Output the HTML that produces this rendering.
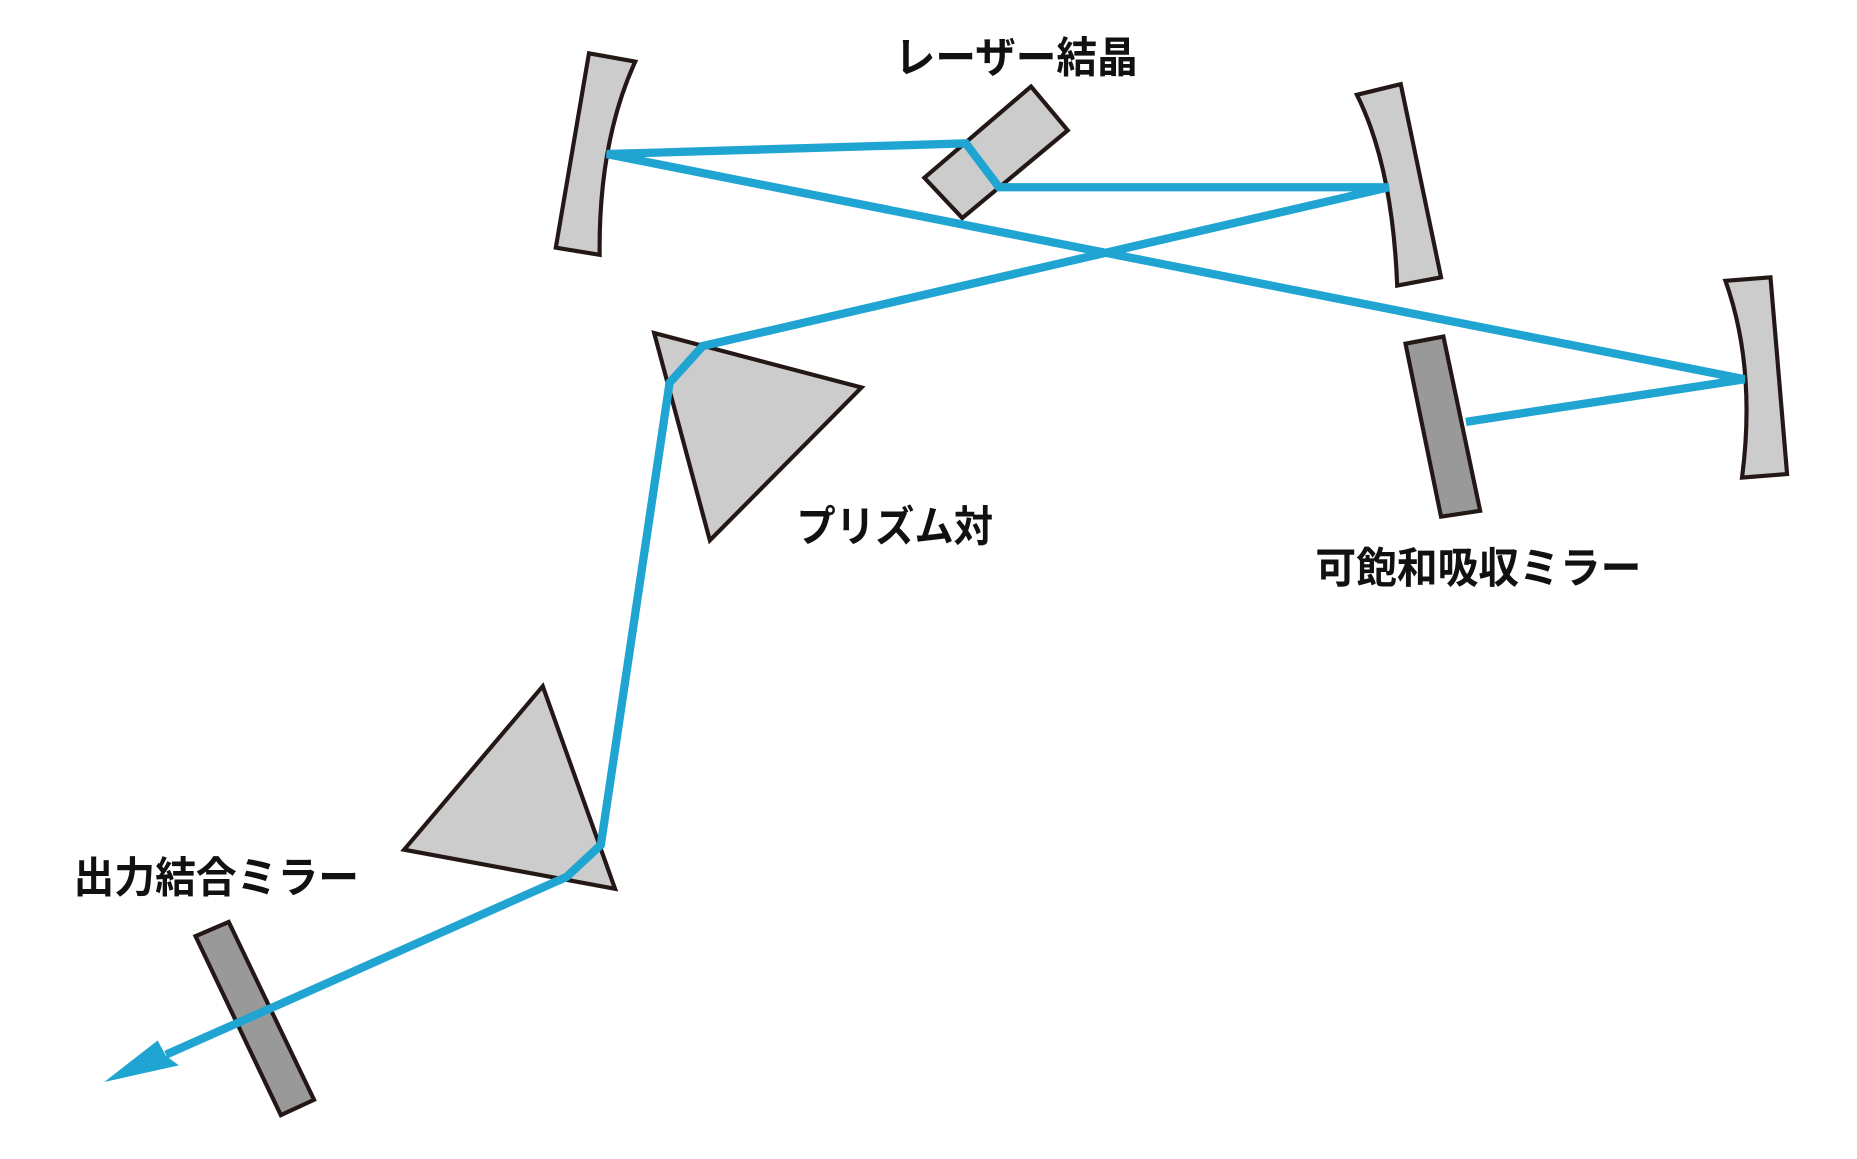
<!DOCTYPE html>
<html><head><meta charset="utf-8"><style>html,body{margin:0;padding:0;background:#fff}svg{display:block}</style></head>
<body>
<svg width="1857" height="1159" viewBox="0 0 1567 978" xmlns="http://www.w3.org/2000/svg">
<g stroke="#231815" stroke-width="3.5" stroke-linejoin="miter">
<path d="M497,45 L536,52 Q505,120 506,215 L469,209 Z" fill="#cccccc"/>
<path d="M1145,80 L1182,71 L1216,234 L1179,241 Q1175,140 1145,80 Z" fill="#cccccc"/>
<path d="M1456,237 L1494,234 L1508,400 L1470,403 Q1482,310 1456,237 Z" fill="#cccccc"/>
<polygon points="1186,290 1218,284 1249,431 1216,436" fill="#999999"/>
<polygon points="870,73 901,110 812,184 780,150" fill="#cccccc"/>
<polygon points="552,281 727,327 599,456" fill="#cccccc"/>
<polygon points="458,579 341,717 519,750" fill="#cccccc"/>
<polygon points="165,790 193,778 265,928 237,941" fill="#999999"/>
</g>
<g stroke="#20a5d3" stroke-width="7" fill="none" stroke-linejoin="miter">
<polyline points="140,890 478,740 507,713 565,323 593,292 1172,158 843,158 815,121 512,130 1472,320 1237,356"/>
</g>
<polygon points="88,913 133,878 140,891 151,899" fill="#20a5d3"/>
<g font-family="'Liberation Sans','Noto Sans CJK JP',sans-serif" font-weight="bold" font-size="36" fill="#111">
<text x="755" y="61" textLength="205" lengthAdjust="spacingAndGlyphs">レーザー結晶</text>
<text x="672" y="457" textLength="166" lengthAdjust="spacingAndGlyphs">プリズム対</text>
<text x="1110" y="492" textLength="275" lengthAdjust="spacingAndGlyphs">可飽和吸収ミラー</text>
<text x="62" y="753" textLength="241" lengthAdjust="spacingAndGlyphs">出力結合ミラー</text>
</g>
</svg>
</body></html>
